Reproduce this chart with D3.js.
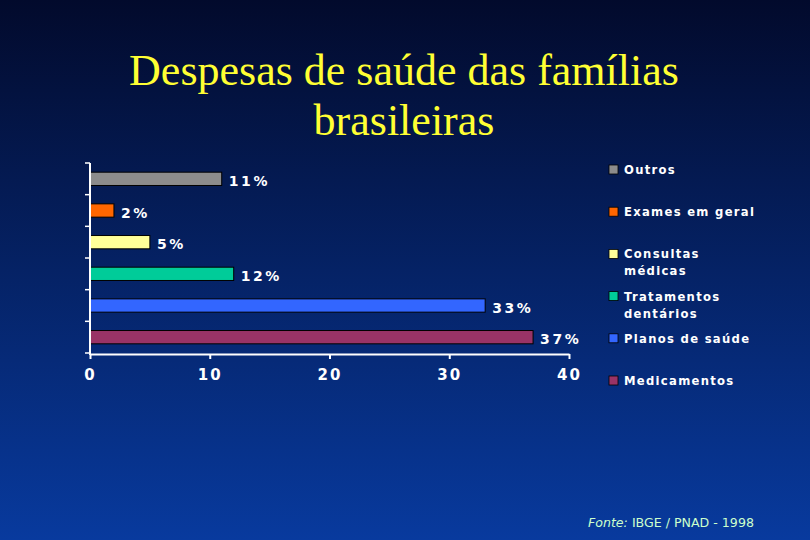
<!DOCTYPE html>
<html><head><meta charset="utf-8">
<script src="https://cdn.jsdelivr.net/npm/d3@7"></script>
<style>html,body{margin:0;padding:0;}svg{display:block;}</style>
</head><body>
<script>
const categories = ["Outros","Exames em geral","Consultas médicas","Tratamentos dentários","Planos de saúde","Medicamentos"];
const legendLabels = [["Outros"],["Exames em geral"],["Consultas","médicas"],["Tratamentos","dentários"],["Planos de saúde"],["Medicamentos"]];
const values = [11, 2, 5, 12, 33, 37];
const colors = ["#8c8c8c","#ff6600","#ffff99","#00cc99","#3366ff","#993366"];
const xTicks = [0, 10, 20, 30, 40];

const W = 810, H = 540;
const svg = d3.select("body").append("svg").attr("width", W).attr("height", H);
const defs = svg.append("defs");
const g = defs.append("linearGradient").attr("id","bg").attr("x1",0).attr("y1",0).attr("x2",0).attr("y2",1);
g.append("stop").attr("offset","0%").attr("stop-color","#020a2c");
g.append("stop").attr("offset","100%").attr("stop-color","#083a9e");
svg.append("rect").attr("width",W).attr("height",H).attr("fill","url(#bg)");

// title
const title = svg.append("text").attr("text-anchor","middle").attr("fill","#ffff33")
  .attr("font-family","'Liberation Serif','Times New Roman',serif").attr("font-size",44);
title.append("tspan").attr("x",404).attr("y",85).text("Despesas de saúde das famílias");
title.append("tspan").attr("x",404).attr("y",135).text("brasileiras");

const x = d3.scaleLinear().domain([0,40]).range([90,569]);
const y = d3.scaleBand().domain(categories).range([163,353]).paddingInner(0.58).paddingOuter(0.29);

const font = "Verdana,'DejaVu Sans',sans-serif";

svg.selectAll("rect.bar").data(categories).join("rect").attr("class","bar")
  .attr("x", x(0)).attr("y", d=>y(d)).attr("width", (d,i)=>x(values[i])-x(0))
  .attr("height", y.bandwidth()).attr("fill",(d,i)=>colors[i]).attr("stroke","#000").attr("stroke-width",1);

svg.selectAll("text.val").data(categories).join("text").attr("class","val")
  .attr("x",(d,i)=>x(values[i])+7).attr("y",d=>y(d)+y.bandwidth()/2+7)
  .attr("fill","#fff").attr("font-family",font).attr("font-weight","bold").attr("font-size",14)
  .attr("letter-spacing",2.6).text((d,i)=>values[i]+"%");

// x axis
const xa = svg.append("g").attr("transform","translate(0,354)")
  .call(d3.axisBottom(x).tickValues(xTicks).tickSize(5).tickPadding(10).tickSizeOuter(0));
xa.select(".domain").attr("stroke","#fff").attr("stroke-width",2);
xa.selectAll(".tick line").attr("stroke","#fff").attr("stroke-width",2);
xa.selectAll(".tick text").attr("fill","#fff").attr("font-family",font).attr("font-weight","bold")
  .attr("font-size",15).attr("letter-spacing",2);

// y axis
const yTickPos = d3.range(categories.length+1).map(i=>163 + i*(190/categories.length));
const ya = svg.append("g");
ya.append("line").attr("x1",90).attr("x2",90).attr("y1",163).attr("y2",355).attr("stroke","#fff").attr("stroke-width",2);
ya.selectAll("line.t").data(yTickPos).join("line").attr("class","t")
  .attr("x1",85).attr("x2",90).attr("y1",d=>d).attr("y2",d=>d).attr("stroke","#fff").attr("stroke-width",1.5);

// legend
const leg = svg.append("g");
legendLabels.forEach((lines,i)=>{
  const ly = 170 + i*42.2;
  leg.append("rect").attr("x",609).attr("y",ly-5).attr("width",9).attr("height",9)
    .attr("fill",colors[i]).attr("stroke","#000").attr("stroke-width",0.8);
  const t = leg.append("text").attr("fill","#fff").attr("font-family",font).attr("font-weight","bold")
    .attr("font-size",11.6).attr("letter-spacing",1.3);
  lines.forEach((l,j)=>t.append("tspan").attr("x",624).attr("y",ly+4+j*17).text(l));
});

// source
const src = svg.append("text").attr("x",588).attr("y",527).attr("fill","#ccffcc")
  .attr("font-family","'DejaVu Sans',Verdana,sans-serif").attr("font-size",12.6);
src.append("tspan").attr("font-style","italic").text("Fonte: ");
src.append("tspan").text("IBGE / PNAD - 1998");
</script>
</body></html>
